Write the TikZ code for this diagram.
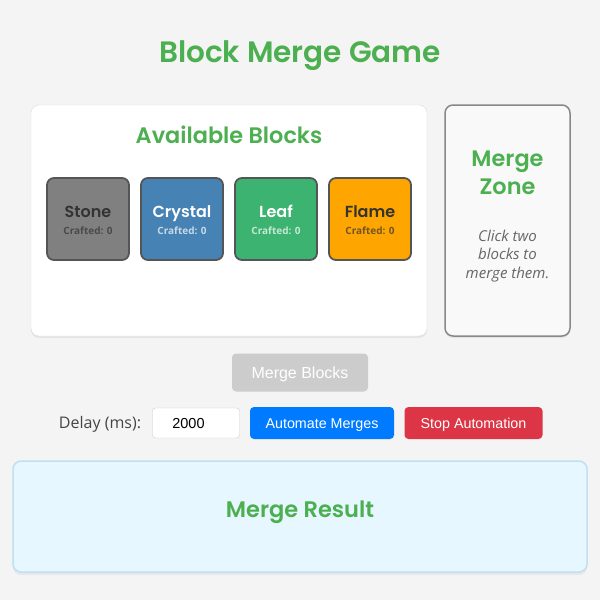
\documentclass[tikz,border=0pt]{standalone}
\usepackage{fontspec}
\setmainfont{Open Sans}
\newfontfamily\headfont{Poppins}[BoldFont={Poppins SemiBold}]
\newfontfamily\btnfont{Liberation Sans}
\usetikzlibrary{shadows}
\definecolor{pagebg}{HTML}{F4F4F4}
\definecolor{titlegreen}{HTML}{4CAF50}
\definecolor{panelborder}{HTML}{DDDDDD}
\definecolor{stone}{HTML}{808080}
\definecolor{crystal}{HTML}{4682B4}
\definecolor{leaf}{HTML}{3CB371}
\definecolor{flame}{HTML}{FFA500}
\definecolor{blockborder}{HTML}{555555}
\definecolor{zonebg}{HTML}{F9F9F9}
\definecolor{zoneborder}{HTML}{888888}
\definecolor{btngray}{HTML}{CCCCCC}
\definecolor{btnblue}{HTML}{007BFF}
\definecolor{btnred}{HTML}{DC3545}
\definecolor{resultbg}{HTML}{E6F7FF}
\definecolor{resultborder}{HTML}{BEE0F5}
\definecolor{darktext}{HTML}{333333}
\begin{document}
\begin{tikzpicture}[x=1pt,y=-1pt,
    heading/.style={text=titlegreen,font=\headfont\bfseries\fontsize{22.4}{26}\selectfont,anchor=base},
    panel/.style={draw=panelborder,fill=white,rounded corners=8pt,inner sep=0pt,
        drop shadow={shadow xshift=0pt,shadow yshift=-2pt,opacity=0.12}},
    blockbox/.style={draw=blockborder,line width=1.8pt,rounded corners=7pt,inner sep=0pt,
        minimum width=82,minimum height=82},
    button/.style={rounded corners=4pt,inner sep=0pt,text=white,font=\btnfont\fontsize{14}{16}\selectfont}]
    \useasboundingbox (0,0) rectangle (600,600);
    \fill[pagebg] (0,0) rectangle (600,600);

    % Titel
    \node[heading,font=\headfont\bfseries\fontsize{29.5}{34}\selectfont] (titel) at (300,62) {Block Merge Game};

    % Bloecke
    \node[panel,minimum width=396,minimum height=231] (avail) at (229,220.5) {};
    \node[heading] (availtitel) at (229,143) {Available Blocks};
    \foreach \name/\x/\col in {stone/88/stone,crystal/182/crystal,leaf/276/leaf,flame/370/flame} {
        \node[blockbox,fill=\col] (\name) at (\x,219) {};
    }
    \foreach \name/\label/\txt in {stone/Stone/darktext,crystal/Crystal/white,
            leaf/Leaf/white,flame/Flame/darktext} {
        \node[anchor=base,text=\txt,font=\headfont\bfseries\fontsize{16}{19}\selectfont]
            (\name-name) at ([yshift=2pt]\name.center) {\label};
        \node[anchor=base,text=\txt,text opacity=0.7,font=\bfseries\fontsize{10}{12}\selectfont]
            (\name-count) at ([yshift=-15pt]\name.center) {Crafted: 0};
    }

    % Merge Zone
    \node[draw=zoneborder,fill=zonebg,line width=1.5pt,rounded corners=8pt,inner sep=0pt,
        minimum width=125,minimum height=231,
        drop shadow={shadow xshift=0pt,shadow yshift=-2pt,opacity=0.12}] (zone) at (507.5,220.5) {};
    \node[heading] (zone1) at (507.5,166) {Merge};
    \node[heading] (zone2) at (507.5,194) {Zone};
    \foreach \i/\zeile/\y in {1/Click two/241,2/blocks to/259.5,3/merge them./278} {
        \node[anchor=base,text=black!60,font=\itshape\fontsize{15}{18}\selectfont]
            (hinweis\i) at (507.5,\y) {\zeile};
    }

    % Knoepfe
    \node[button,fill=btngray,minimum width=136,minimum height=38] (merge) at (300,372.5) {};
    \node[anchor=base,text=white,font=\btnfont\fontsize{16}{19}\selectfont] (mergetxt) at (300,378.5) {Merge Blocks};
    \node[anchor=base,text=black!73,font=\fontsize{16}{19}\selectfont] (delay) at (100,428.5) {Delay (ms):};
    \node[draw=btngray,fill=white,rounded corners=3pt,inner sep=0pt,minimum width=87,minimum height=30]
        (eingabe) at (196,423) {};
    \node[anchor=base,font=\btnfont\fontsize{14.5}{17}\selectfont] (wert) at (188.5,428.5) {2000};
    \node[button,fill=btnblue,minimum width=144,minimum height=32] (auto) at (322,423) {};
    \node[anchor=base,text=white,font=\btnfont\fontsize{14.3}{17}\selectfont] (autotxt) at (322,428.5) {Automate Merges};
    \node[button,fill=btnred,minimum width=138,minimum height=32] (stop) at (473.5,423) {};
    \node[anchor=base,text=white,font=\btnfont\fontsize{14.3}{17}\selectfont] (stoptxt) at (473.5,428.5) {Stop Automation};

    % Ergebnis
    \node[draw=resultborder,fill=resultbg,line width=1.5pt,rounded corners=8pt,inner sep=0pt,
        minimum width=574,minimum height=111,
        drop shadow={shadow xshift=0pt,shadow yshift=-3pt,opacity=0.1}] (ergebnis) at (300,516.5) {};
    \node[heading,font=\headfont\bfseries\fontsize{22.5}{27}\selectfont] (ergebnistxt) at (300,517) {Merge Result};
\end{tikzpicture}
\end{document}
